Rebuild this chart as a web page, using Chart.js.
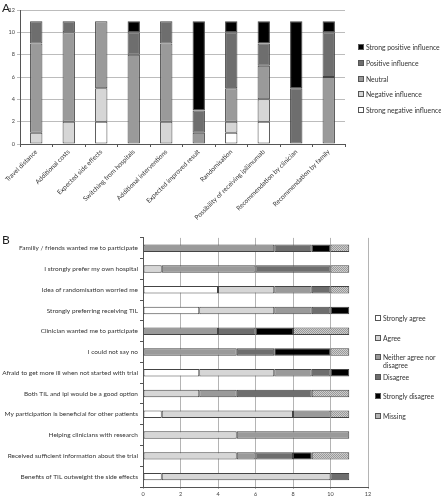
<!DOCTYPE html>
<html>
<head>
<meta charset="utf-8">
<script src="https://cdn.jsdelivr.net/npm/chart.js@4.4.0/dist/chart.umd.min.js"></script>
<style>
body { margin: 0; background: #fff; font-family: Lato, "Open Sans", sans-serif; }
#wrap { position: relative; width: 441px; height: 500px; overflow: hidden; }
#chartA { position: absolute; left: 0; top: 0; }
#chartB { position: absolute; left: 0; top: 232px; }
.panel { position: absolute; left: 2px; font-size: 12px; color: #222; }
.legend { position: absolute; font-size: 6.8px; color: #333; }
.legend .item { white-space: nowrap; line-height: 8px; }
.legend .sw { display: inline-block; width: 4px; height: 4px; border: 1px solid #555; margin-right: 2px; vertical-align: 0; }
</style>
</head>
<body>
<div id="wrap">
  <canvas id="chartA" width="441" height="232"></canvas>
  <canvas id="chartB" width="441" height="268"></canvas>
  <div class="panel" style="top:0px">A</div>
  <div class="panel" style="top:232px">B</div>
  <div class="legend" id="legendA" style="left:358px;top:43px"></div>
  <div class="legend" id="legendB" style="left:375px;top:314px"></div>
</div>
<script>
// Panel A - influence on decision to participate
const catsA = ['Travel distance', 'Additional costs', 'Expected side effects', 'Switching from hospitals',
    'Additional interventions', 'Expected improved result', 'Randomisation',
    'Possibility of receiving ipilimumab', 'Recommendation by clinician', 'Recommendation by family'];
const strongNegative = [0, 0, 2, 0, 0, 0, 1, 2, 0, 0];
const negative = [1, 2, 3, 0, 2, 0, 1, 2, 0, 0];
const neutral = [8, 8, 6, 8, 7, 1, 3, 3, 0, 6];
const positive = [2, 1, 0, 2, 2, 2, 5, 2, 5, 4];
const strongPositive = [0, 0, 0, 1, 0, 8, 1, 2, 6, 1];
const ticksA = [0, 2, 4, 6, 8, 10, 12];

// Panel B - statements
const catsB = ['Familiy / friends wanted me to participate', 'I strongly prefer my own hospital',
    'Idea of randomisation worried me', 'Strongly preferring receiving TIL', 'Clinician wanted me to participate',
    'I could not say no', 'Afraid to get more ill when not started with trial', 'Both TIL and ipi would be a good option',
    'My participation is beneficial for other patients', 'Helping clinicians with research',
    'Received sufficient information about the trial', 'Benefits of TIL outweight the side effects'];
const stronglyAgree = [0, 0, 4, 3, 0, 0, 3, 0, 1, 0, 0, 1];
const agree = [0, 1, 3, 4, 0, 0, 4, 3, 7, 5, 5, 9];
const neitherAgree = [7, 5, 2, 2, 4, 5, 2, 2, 2, 6, 1, 0];
const disagree = [2, 4, 1, 1, 2, 2, 1, 4, 0, 0, 2, 1];
const stronglyDisagree = [1, 0, 0, 1, 2, 3, 1, 0, 0, 0, 1, 0];
const missing = [1, 1, 1, 0, 3, 1, 0, 2, 1, 0, 2, 0];
const ticksB = [0, 2, 4, 6, 8, 10, 12];

const BLACK = '#000000', DARK = '#6e6e6e', MID = '#9a9a9a', LIGHT = '#d6d6d6', WHITE = '#ffffff';

function hatch() {
    const c = document.createElement('canvas');
    c.width = 2; c.height = 2;
    const g = c.getContext('2d');
    g.fillStyle = '#cdcdcd';
    g.fillRect(0, 0, 2, 2);
    g.fillStyle = '#999999';
    g.fillRect(0, 0, 1, 1);
    g.fillRect(1, 1, 1, 1);
    return g.createPattern(c, 'repeat');
}

// zeros would leave a hairline border, so drop them
const clean = arr => arr.map(v => v === 0 ? null : v);

function makeLegend(id, items, step) {
    const box = document.getElementById(id);
    items.forEach(it => {
        const d = document.createElement('div');
        d.className = 'item';
        d.style.height = step + 'px';
        d.innerHTML = `<span class="sw" style="background:${it.css}"></span>${it.label}`;
        box.appendChild(d);
    });
}

Chart.defaults.font.family = 'Lato, "Open Sans", sans-serif';
Chart.defaults.color = '#444';
Chart.defaults.animation = false;

const seriesA = [
    { label: 'Strong negative influence', data: strongNegative, color: WHITE },
    { label: 'Negative influence', data: negative, color: LIGHT },
    { label: 'Neutral', data: neutral, color: MID },
    { label: 'Positive influence', data: positive, color: DARK },
    { label: 'Strong positive influence', data: strongPositive, color: BLACK },
];

new Chart(document.getElementById('chartA'), {
    type: 'bar',
    data: {
        labels: catsA,
        datasets: seriesA.map(s => ({
            label: s.label,
            data: clean(s.data),
            backgroundColor: s.color,
            borderColor: '#444',
            borderWidth: 1,
            borderSkipped: false,
            barPercentage: 0.38,
            categoryPercentage: 1
        }))
    },
    options: {
        responsive: false,
        devicePixelRatio: 1,
        layout: { padding: { left: 0, right: 96, top: 10, bottom: 0 } },
        plugins: { legend: { display: false }, tooltip: { enabled: false } },
        scales: {
            x: {
                stacked: true,
                afterFit: s => { s.height = 88; },
                border: { color: '#555' },
                grid: { drawOnChartArea: false, offset: true, tickLength: 3, color: '#555' },
                ticks: { autoSkip: false, minRotation: 45, maxRotation: 45, font: { size: 6.5 }, color: '#333', padding: 1 }
            },
            y: {
                stacked: true,
                min: 0, max: 12,
                afterFit: s => { s.width = 20; },
                afterBuildTicks: s => { s.ticks = ticksA.map(v => ({ value: v })); },
                border: { color: '#555' },
                grid: { color: '#bcbcbc', tickLength: 3 },
                ticks: { font: { size: 5.5 }, color: '#444', padding: 2 }
            }
        }
    }
});

makeLegend('legendA', seriesA.slice().reverse().map(s => ({ label: s.label, css: s.color })), 15.8);

const pat = hatch();
const seriesB = [
    { label: 'Strongly agree', data: stronglyAgree, color: WHITE, css: WHITE },
    { label: 'Agree', data: agree, color: LIGHT, css: LIGHT },
    { label: 'Neither agree nor disagree', data: neitherAgree, color: MID, css: MID },
    { label: 'Disagree', data: disagree, color: DARK, css: DARK },
    { label: 'Strongly disagree', data: stronglyDisagree, color: BLACK, css: BLACK },
    { label: 'Missing', data: missing, color: pat, css: '#b4b4b4' },
];

new Chart(document.getElementById('chartB'), {
    type: 'bar',
    data: {
        labels: catsB,
        datasets: seriesB.map(s => ({
            label: s.label,
            data: clean(s.data),
            backgroundColor: s.color,
            borderColor: '#444',
            borderWidth: 1,
            borderSkipped: false,
            barPercentage: 0.36,
            categoryPercentage: 1
        }))
    },
    options: {
        indexAxis: 'y',
        responsive: false,
        devicePixelRatio: 1,
        layout: { padding: { left: 0, right: 73, top: 2, bottom: 0 } },
        plugins: { legend: { display: false }, tooltip: { enabled: false } },
        scales: {
            x: {
                stacked: true,
                min: 0, max: 12,
                afterFit: s => { s.height = 13; },
                afterBuildTicks: s => { s.ticks = ticksB.map(v => ({ value: v })); },
                border: { color: '#555' },
                grid: { color: '#b4b4b4', tickLength: 2 },
                ticks: { font: { size: 5.5 }, color: '#444', padding: 2 }
            },
            y: {
                stacked: true,
                afterFit: s => { s.width = 143; },
                border: { color: '#555' },
                grid: { drawOnChartArea: false, offset: true, tickLength: 3, color: '#555' },
                ticks: { autoSkip: false, font: { size: 6.5 }, color: '#333', padding: 2 }
            }
        }
    }
});

makeLegend('legendB', seriesB.map(s => ({ label: s.label, css: s.css })), 19.6);
document.querySelectorAll('#legendB .item')[2].innerHTML =
    '<span class="sw" style="background:' + MID + '"></span>Neither agree nor<br><span style="padding-left:8px">disagree</span>';
</script>
</body>
</html>
